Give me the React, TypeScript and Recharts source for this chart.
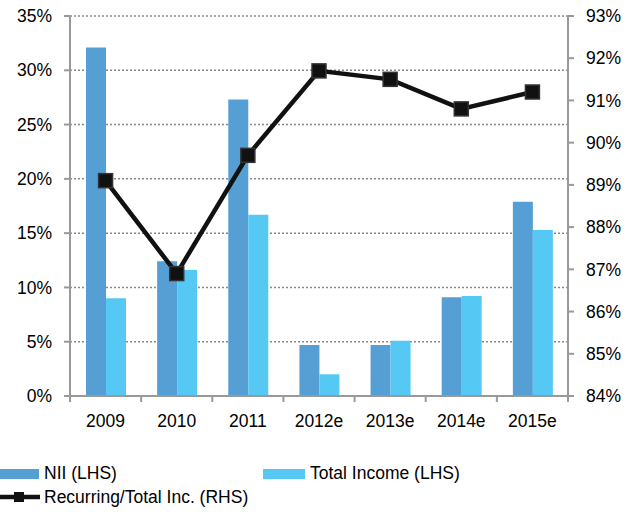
import React from "react";
import { ComposedChart, Bar, Line, XAxis, YAxis, CartesianGrid, Legend } from "recharts";

const years = ["2009", "2010", "2011", "2012e", "2013e", "2014e", "2015e"];
const nii = [32.1, 12.4, 27.3, 4.7, 4.7, 9.1, 17.9];
const totalIncome = [9.0, 11.6, 16.7, 2.0, 5.1, 9.2, 15.3];
const recurring = [89.1, 86.9, 89.7, 91.7, 91.5, 90.8, 91.2];
const leftTicks = [0, 5, 10, 15, 20, 25, 30, 35];
const rightTicks = [84, 85, 86, 87, 88, 89, 90, 91, 92, 93];

const data = years.map((y, i) => ({ year: y, nii: nii[i], ti: totalIncome[i], rec: recurring[i] }));

const FONT = "'Liberation Sans', Arial, sans-serif";
const AXIS = "#999999";
const NII_COLOR = "#559fd4";
const TI_COLOR = "#55c9f3";
const W = 631;
const H = 512;
const LEFT = 70;
const RIGHT = 63;
const BAND = (W - LEFT - RIGHT) / years.length;

const SquareDot = (props: any) => {
  const { cx, cy } = props;
  if (cx == null || cy == null) return null;
  return <rect x={cx - 7} y={cy - 7} width={14} height={14} fill="#111" stroke="#333" strokeWidth={1.5} />;
};

const YearTick = (props: any) => {
  const { x, y, payload, index } = props;
  const last = index === years.length - 1;
  return (
    <g>
      <line x1={x - BAND / 2} x2={x - BAND / 2} y1={y - 8} y2={y - 2} stroke={AXIS} strokeWidth={2} />
      {last && <line x1={x + BAND / 2} x2={x + BAND / 2} y1={y - 8} y2={y - 2} stroke={AXIS} strokeWidth={2} />}
      <text x={x} y={y + 23} textAnchor="middle" fontSize={17.5} fill="#000" fontFamily={FONT}>
        {payload.value}
      </text>
    </g>
  );
};

const LegendBox = () => (
  <div style={{ position: "relative", width: W, height: 54, fontFamily: FONT, fontSize: 17.5, color: "#000" }}>
    <div style={{ position: "absolute", left: 0, top: 11, width: 39, height: 10, background: NII_COLOR }} />
    <div style={{ position: "absolute", left: 44, top: 5, lineHeight: "20px" }}>NII (LHS)</div>
    <div style={{ position: "absolute", left: 263, top: 11, width: 42, height: 10, background: TI_COLOR }} />
    <div style={{ position: "absolute", left: 310, top: 5, lineHeight: "20px" }}>Total Income (LHS)</div>
    <svg style={{ position: "absolute", left: 0, top: 31 }} width={42} height={16}>
      <line x1={0} x2={40} y1={8} y2={8} stroke="#111" strokeWidth={4.5} />
      <rect x={14} y={3} width={10} height={10} fill="#111" />
    </svg>
    <div style={{ position: "absolute", left: 44, top: 29, lineHeight: "20px" }}>Recurring/Total Inc. (RHS)</div>
  </div>
);

export default function App() {
  return (
    <div style={{ position: "absolute", left: 0, top: 0 }}>
      <ComposedChart
        width={W}
        height={H}
        data={data}
        margin={{ top: 16, right: 0, bottom: 32, left: 0 }}
        barGap={0}
        barSize={20}
      >
        <CartesianGrid yAxisId="left" vertical={false} stroke="#888" strokeDasharray="2 2" strokeWidth={1.5} />
        <XAxis
          dataKey="year"
          height={30}
          tickLine={false}
          axisLine={{ stroke: AXIS, strokeWidth: 2 }}
          tick={<YearTick />}
          interval={0}
        />
        <YAxis
          yAxisId="left"
          width={LEFT}
          domain={[0, 35]}
          ticks={leftTicks}
          tickFormatter={(v: number) => `${v}%`}
          axisLine={{ stroke: AXIS, strokeWidth: 2 }}
          tickLine={{ stroke: AXIS, strokeWidth: 2 }}
          tickSize={6}
          tickMargin={12}
          tick={{ fontSize: 17.5, fill: "#000", fontFamily: FONT }}
          interval={0}
        />
        <YAxis
          yAxisId="right"
          orientation="right"
          width={RIGHT}
          domain={[84, 93]}
          ticks={rightTicks}
          tickFormatter={(v: number) => `${v}%`}
          axisLine={{ stroke: AXIS, strokeWidth: 2 }}
          tickLine={{ stroke: AXIS, strokeWidth: 2 }}
          tickSize={6}
          tickMargin={12}
          tick={{ fontSize: 17.5, fill: "#000", fontFamily: FONT }}
          interval={0}
        />
        <Legend
          verticalAlign="bottom"
          content={() => <LegendBox />}
          wrapperStyle={{ left: 0, bottom: 0, width: W, height: 54 }}
        />
        <Bar yAxisId="left" dataKey="nii" name="NII (LHS)" fill={NII_COLOR} isAnimationActive={false} />
        <Bar yAxisId="left" dataKey="ti" name="Total Income (LHS)" fill={TI_COLOR} isAnimationActive={false} />
        <Line
          yAxisId="right"
          dataKey="rec"
          name="Recurring/Total Inc. (RHS)"
          stroke="#111"
          strokeWidth={4.5}
          dot={<SquareDot />}
          isAnimationActive={false}
        />
      </ComposedChart>
    </div>
  );
}
